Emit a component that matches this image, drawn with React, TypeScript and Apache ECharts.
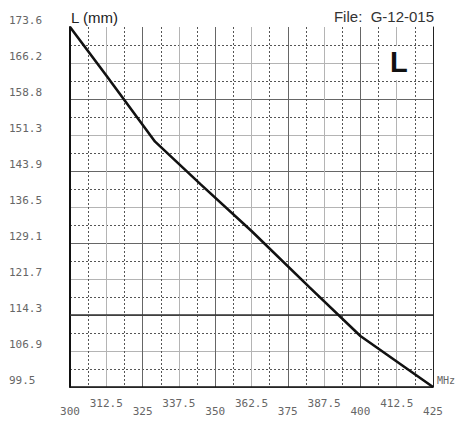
import React, { useEffect, useRef } from "react";
import * as echarts from "echarts";

// Curve (MHz -> L in mm)
const freq = [300, 312.5, 329.3, 345, 362.5, 382.5, 400, 425];
const lengthMm = [173.6, 163.6, 150.0, 141.2, 131.6, 120.0, 110.0, 99.5];

// Y tick labels as printed on the chart (bottom to top)
const yTickLabels = ["99.5", "106.9", "114.3", "121.7", "129.1", "136.5", "143.9", "151.3", "158.8", "166.2", "173.6"];
const yMin = 99.5;
const yMax = 173.6;
const refLine = 114.3;

const xMin = 300;
const xMax = 425;

const monoFont = "DejaVu Sans Mono";
const labelColor = "#666";

export default function App() {
  const ref = useRef<HTMLDivElement>(null);

  useEffect(() => {
    if (!ref.current) return;
    const chart = echarts.init(ref.current, undefined, { renderer: "svg" });
    const data = freq.map((f, i) => [f, lengthMm[i]]);

    const baseX = {
      type: "value",
      min: xMin,
      max: xMax,
      position: "bottom",
      axisLine: { show: false, onZero: false },
      axisTick: { show: false },
      axisLabel: { show: false },
      splitLine: { show: false },
    };
    const baseY = {
      type: "value",
      position: "left",
      axisLine: { show: false, onZero: false },
      axisTick: { show: false },
      axisLabel: { show: false },
      splitLine: { show: false },
    };

    chart.setOption({
      animation: false,
      backgroundColor: "#fff",
      grid: { left: 70, right: 27, top: 27, bottom: 36, containLabel: false, outerBoundsMode: "none" },
      xAxis: [
        {
          ...baseX,
          interval: 6.25,
          splitLine: {
            show: true,
            showMinLine: true,
            showMaxLine: true,
            lineStyle: { type: [2, 2], color: ["rgba(0,0,0,0)", "#555"], width: 1 },
          },
        },
        {
          ...baseX,
          interval: 12.5,
          splitLine: {
            show: true,
            showMinLine: true,
            showMaxLine: true,
            lineStyle: { type: "solid", color: ["#666", "#b4b4b4"], width: 1 },
          },
          axisLabel: {
            show: true,
            margin: 11,
            fontFamily: monoFont,
            fontSize: 11,
            color: labelColor,
            formatter: (v: number) => (Math.round((v - xMin) / 12.5) % 2 === 1 ? String(v) : ""),
          },
        },
        {
          ...baseX,
          interval: 25,
          axisLine: { show: true, onZero: false, lineStyle: { color: "#111", width: 1.5 } },
          axisLabel: {
            show: true,
            margin: 19,
            fontFamily: monoFont,
            fontSize: 11,
            color: labelColor,
            formatter: (v: number) => String(v),
          },
          name: "MHz",
          nameLocation: "end",
          nameGap: 4,
          nameTextStyle: {
            fontFamily: monoFont,
            fontSize: 10,
            color: labelColor,
            verticalAlign: "bottom",
            align: "left",
            padding: [0, 0, 2, 0],
          },
        },
      ],
      yAxis: [
        {
          ...baseY,
          min: yMin,
          max: yMax,
          axisLine: { show: true, onZero: false, lineStyle: { color: "#111", width: 2 } },
        },
        {
          ...baseY,
          min: 0,
          max: 20,
          interval: 1,
          splitLine: {
            show: true,
            showMinLine: true,
            showMaxLine: false,
            lineStyle: { type: [2, 2], color: ["rgba(0,0,0,0)", "#555"], width: 1 },
          },
        },
        {
          ...baseY,
          min: 0,
          max: 20,
          interval: 2,
          position: "right",
          axisLine: { show: true, onZero: false, lineStyle: { color: "#222", width: 1 } },
          splitLine: {
            show: true,
            showMinLine: true,
            showMaxLine: false,
            lineStyle: { type: "solid", color: ["#666", "#b4b4b4"], width: 1 },
          },
        },
        {
          ...baseY,
          min: 0,
          max: 20,
          interval: 2,
          axisLabel: {
            show: true,
            margin: 61,
            align: "left",
            verticalAlign: "bottom",
            padding: [0, 0, 1, 0],
            fontFamily: monoFont,
            fontSize: 11,
            color: labelColor,
            formatter: (v: number) => yTickLabels[Math.round(v / 2)] ?? "",
          },
        },
      ],
      graphic: [
        {
          type: "text",
          left: 71,
          top: 10,
          style: { text: "L (mm)", font: "15px 'Liberation Sans', Arial, sans-serif", fill: "#222" },
        },
        {
          type: "text",
          right: 26,
          top: 9,
          style: { text: "File:  G-12-015", font: "15px 'Liberation Sans', Arial, sans-serif", fill: "#333" },
        },
        {
          type: "rect",
          shape: { x: 379, y: 46, width: 34, height: 34 },
          style: { fill: "#fff" },
          z: 10,
        },
        {
          type: "text",
          left: 390,
          top: 47,
          z: 11,
          style: { text: "L", font: "bold 29px 'Liberation Sans', Arial, sans-serif", fill: "#111" },
        },
      ],
      series: [
        {
          type: "line",
          xAxisIndex: 0,
          yAxisIndex: 0,
          data,
          symbol: "none",
          smooth: false,
          lineStyle: { color: "#111", width: 2.6 },
          z: 5,
          markLine: {
            silent: true,
            symbol: "none",
            label: { show: false },
            lineStyle: { color: "#333", width: 1.5, type: "solid" },
            data: [{ yAxis: refLine }],
            z: 4,
          },
        },
      ],
    });

    return () => chart.dispose();
  }, []);

  return (
    <div
      ref={ref}
      style={{ position: "absolute", left: 0, top: 0, width: 460, height: 423 }}
    />
  );
}
